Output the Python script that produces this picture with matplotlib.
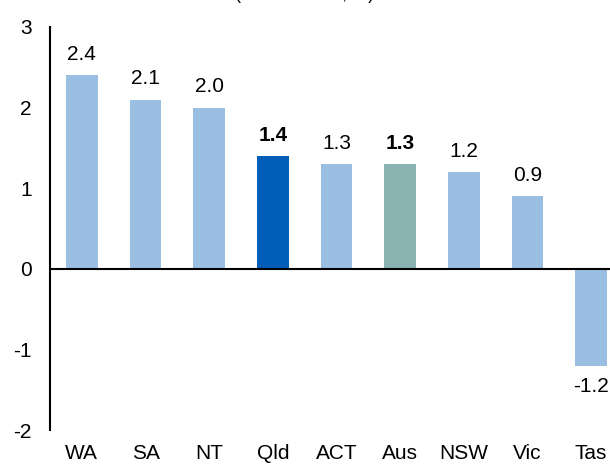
import matplotlib
matplotlib.use("Agg")
import matplotlib.pyplot as plt

plt.rcParams['font.family'] = ['Liberation Sans', 'DejaVu Sans']

categories = ["WA", "SA", "NT", "Qld", "ACT", "Aus", "NSW", "Vic", "Tas"]
values = [2.4, 2.1, 2.0, 1.4, 1.3, 1.3, 1.2, 0.9, -1.2]
bold_labels = ["Qld", "Aus"]
colors_map = {"Qld": "#005EB8", "Aus": "#8AB4B1"}
default_color = "#9BBFE3"
title_text = "(2023-24 real, %)"

W, H = 610, 465
fig = plt.figure(figsize=(W / 100, H / 100), dpi=100)
ax = fig.add_axes([50 / W, (H - 430) / H, 573 / W, (430 - 27) / H])

x = list(range(len(categories)))
cols = [colors_map.get(c, default_color) for c in categories]
ax.bar(x, values, width=0.5, color=cols, zorder=2)

ax.set_xlim(-0.5, len(categories) - 0.5)
ax.set_ylim(-2, 3)
ax.set_yticks([-2, -1, 0, 1, 2, 3])
ax.set_yticklabels(["-2", "-1", "0", "1", "2", "3"])
ax.set_xticks(x)
ax.set_xticklabels(categories)

for s in ["top", "right", "bottom"]:
    ax.spines[s].set_visible(False)
ax.spines["left"].set_linewidth(1.5)
ax.axhline(0, color="black", linewidth=1.5, zorder=3)

ax.tick_params(axis="y", length=0, pad=13, labelsize=15)
ax.tick_params(axis="x", length=0, pad=10, labelsize=15)

for xi, v, c in zip(x, values, categories):
    weight = "bold" if c in bold_labels else "normal"
    if v >= 0:
        ax.annotate(f"{v:.1f}", (xi, v), xytext=(0, 8), textcoords="offset points",
                    ha="center", va="bottom", fontsize=15, fontweight=weight)
    else:
        ax.annotate(f"{v:.1f}", (xi, v), xytext=(0, -8), textcoords="offset points",
                    ha="center", va="top", fontsize=15, fontweight=weight)

fig.text(0.5, 1 + 1 / H, title_text, ha="center", va="baseline", fontsize=13)

fig.savefig("out.png", dpi=100)
